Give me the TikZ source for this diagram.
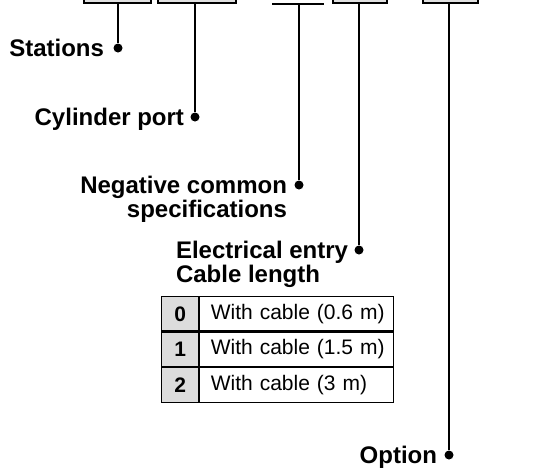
\documentclass[tikz,border=0pt]{standalone}
\usepackage{fontspec}
\setmainfont{Liberation Sans}
\usetikzlibrary{positioning}
\definecolor{CodeFill}{HTML}{E0E0E0}
\definecolor{CellGrey}{HTML}{DCDCDC}
\newcommand{\lblfont}{\bfseries\fontsize{24}{24.5}\selectfont}
\newcommand{\tabfont}{\fontsize{21}{24}\selectfont}

\begin{document}
\begin{tikzpicture}[x=1pt, y=-1pt, line width=2pt,
    codebox/.style={draw, fill=CodeFill, anchor=south west, minimum height=40pt, inner sep=0pt},
    pindot/.style={circle, fill, inner sep=0pt, minimum size=9pt},
    lbl/.style={font=\lblfont, inner sep=0pt},
    numcell/.style={draw, fill=CellGrey, line width=1.2pt, minimum width=37pt, minimum height=34.4pt,
                    inner sep=0pt, font=\tabfont\bfseries},
    desccell/.style={draw, line width=1.2pt, text width=182pt, align=left, inner xsep=6pt,
                     inner ysep=0pt, minimum height=34.4pt, font=\tabfont,
                     execute at begin node=\hspace*{5pt}}]
    \clip (0,0) rectangle (559,469);
    % code fields at the top (cut off by the page)
    \node[codebox, minimum width=67pt] (stn) at (83,3.5) {};
    \node[codebox, minimum width=78pt] (cyl) at (157,3.5) {};
    \coordinate (negL) at (272,3.5);
    \coordinate (negR) at (324,3.5);
    \draw (negL) -- (negR);
    \node[codebox, minimum width=54pt] (ele) at (332,3.5) {};
    \node[codebox, minimum width=55pt] (opt) at (422,3.5) {};
    % dots at the line ends
    \node[pindot] (stnDot) at (118,48) {};
    \node[pindot] (cylDot) at (195,117) {};
    \node[pindot] (negDot) at (299,185) {};
    \node[pindot] (eleDot) at (359,250) {};
    \node[pindot] (optDot) at (449,455) {};
    % leader lines
    \draw (stnDot |- stn.south) -- (stnDot);
    \draw (cylDot |- cyl.south) -- (cylDot);
    \draw (negDot |- negL) -- (negDot);
    \draw (eleDot |- ele.south) -- (eleDot);
    \draw (optDot |- opt.south) -- (optDot);
    % labels
    \node[lbl, anchor=base east] (stnLbl) at (105,56) {Stations};
    \node[lbl, anchor=base east] (cylLbl) at (185,125) {Cylinder port};
    \node[lbl, anchor=north east, align=right] (negLbl) at (288,175) {Negative common\\specifications};
    \node[lbl, anchor=north west, align=left] (eleLbl) at (175,240) {Electrical entry\\Cable length};
    \node[lbl, anchor=base east] (optLbl) at (438,463) {Option};
    % cable length table
    \node[numcell, anchor=north west] (n0) at (161,296) {0};
    \node[desccell, right=0pt of n0] (d0) {With cable (0.6 m)};
    \node[numcell, below=0pt of n0] (n1) {1};
    \node[desccell, right=0pt of n1] (d1) {With cable (1.5 m)};
    \node[numcell, below=0pt of n1] (n2) {2};
    \node[desccell, right=0pt of n2] (d2) {With cable (3 m)};
\end{tikzpicture}
\end{document}
